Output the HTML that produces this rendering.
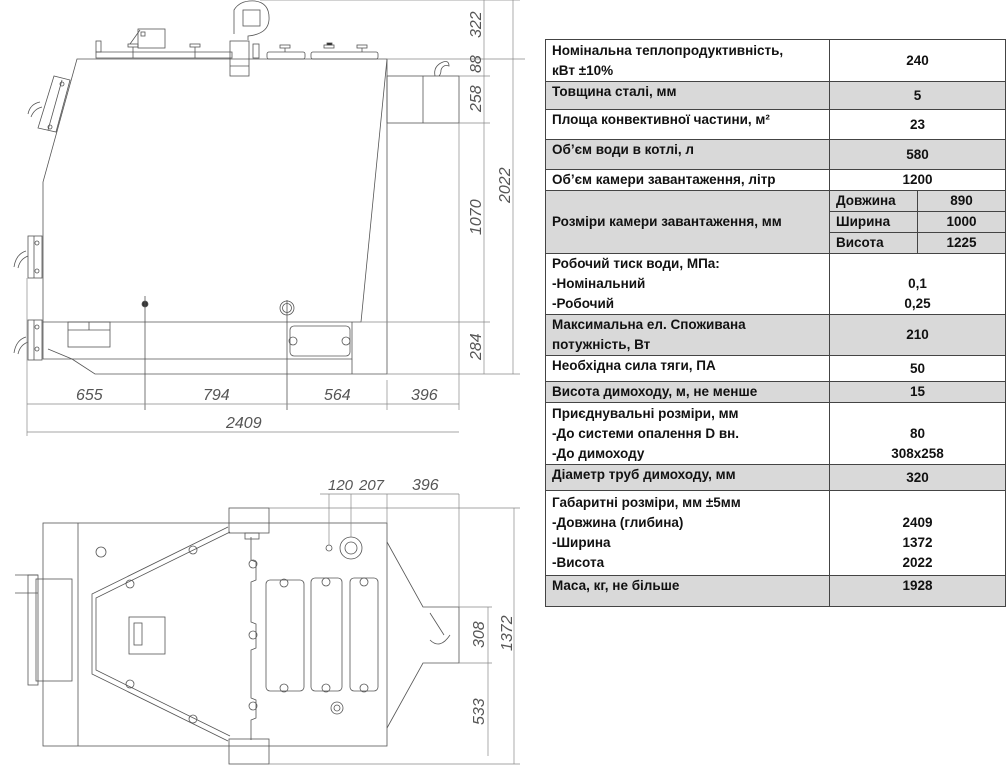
<!DOCTYPE html>
<html><head><meta charset="utf-8"><style>
html,body{margin:0;padding:0;background:#fff;width:1006px;height:766px;overflow:hidden;position:relative}
svg{position:absolute;left:0;top:0}
table{position:absolute;left:545px;top:39px;width:460px;border-collapse:collapse;font-family:"Liberation Sans","DejaVu Sans",sans-serif;font-weight:bold;font-size:13.5px;color:#111;table-layout:fixed}
td{border:1.5px solid #444;padding:0 6px;line-height:20px;vertical-align:middle;white-space:nowrap}
td.v{text-align:center}
tr.g td{background:#d9d9d9}
.dim{font-family:"Liberation Sans",sans-serif;font-style:italic;font-size:16px;fill:#555}
</style></head><body>
<svg width="540" height="766" viewBox="0 0 540 766" fill="none" stroke="#555" stroke-width="0.8">
<path d="M77 59 L387 59 L361 322 L43 322 L43 182 Z"/>
<path d="M43 322 L43 359 L352 359 L352 322"/>
<path d="M48 349 L72 359 L95 374 L387 374 L387 59"/>
<line x1="352" y1="359" x2="352" y2="374"/>
<rect x="68" y="322" width="42" height="25"/><line x1="89" y1="322" x2="89" y2="330"/><line x1="68" y1="330" x2="110" y2="330"/>
<rect x="290" y="326" width="60" height="30" rx="4"/><circle cx="293" cy="341" r="4"/><circle cx="346" cy="341" r="4"/>
<circle cx="287" cy="308" r="7"/><circle cx="287" cy="308" r="4.5"/>
<circle cx="145" cy="304" r="3" fill="#333"/><line x1="145" y1="296" x2="145" y2="410"/>
<line x1="287" y1="300" x2="287" y2="410"/>
<rect x="387" y="76" width="72" height="47"/><line x1="423" y1="76" x2="423" y2="123"/>
<path d="M435 76 q-2 -10 8 -14 q6 -2 6 4 q-6 -2 -8 4 q0 4 -2 6"/>
<path d="M96 52 L232 52 L232 58 L96 58 Z"/><rect x="96" y="41" width="5" height="11"/>
<rect x="138" y="29" width="27" height="19"/><rect x="141" y="32" width="4" height="4"/><line x1="130" y1="44" x2="140" y2="30"/>
<rect x="128" y="44" width="10" height="3"/><line x1="133" y1="47" x2="133" y2="58"/>
<rect x="190" y="44" width="10" height="3"/><line x1="195" y1="47" x2="195" y2="58"/>
<path d="M234 34 L234 10 Q240 0 255 1 Q270 3 269 20 Q268 34 248 36 L248 40"/>
<rect x="243" y="10" width="17" height="16"/>
<rect x="230" y="41" width="19" height="35"/><line x1="230" y1="66" x2="249" y2="66"/>
<rect x="253" y="44" width="6" height="14"/>
<rect x="267" y="52" width="38" height="7" rx="2"/><rect x="280" y="45" width="10" height="3"/><line x1="285" y1="48" x2="285" y2="52"/>
<rect x="311" y="52" width="67" height="7" rx="2"/><rect x="324" y="45" width="10" height="3"/><rect x="327" y="43" width="5" height="2" fill="#222"/>
<rect x="357" y="45" width="10" height="3"/><line x1="362" y1="48" x2="362" y2="52"/>
<path d="M54 76 L38 128 L56 132 L70 80 Z"/><line x1="62" y1="80" x2="48" y2="130"/><circle cx="62" cy="84" r="2"/><circle cx="50" cy="127" r="2"/>
<path d="M40 102 q-10 2 -12 12"/><path d="M42 107 q-8 2 -11 10"/>
<rect x="28" y="236" width="14" height="42"/><line x1="34" y1="236" x2="34" y2="278"/><circle cx="37" cy="243" r="2"/><circle cx="37" cy="271" r="2"/>
<path d="M26 251 q-10 3 -12 16"/><path d="M28 256 q-8 3 -10 12"/>
<rect x="28" y="320" width="14" height="40"/><line x1="34" y1="320" x2="34" y2="360"/><circle cx="37" cy="327" r="2"/><circle cx="37" cy="349" r="2"/>
<path d="M26 337 q-10 3 -12 16"/><path d="M28 342 q-8 3 -10 12"/>
<g stroke="#888" stroke-width="0.7">
<line x1="27" y1="278" x2="27" y2="436"/>
<line x1="387" y1="59" x2="525" y2="59"/><line x1="459" y1="76" x2="490" y2="76"/><line x1="459" y1="123" x2="490" y2="123"/><line x1="361" y1="322" x2="490" y2="322"/><line x1="387" y1="374" x2="520" y2="374"/><line x1="260" y1="0" x2="520" y2="0"/>
<line x1="484" y1="0" x2="484" y2="374"/><line x1="513" y1="0" x2="513" y2="374"/>
<line x1="387" y1="380" x2="387" y2="410"/><line x1="459" y1="123" x2="459" y2="410"/>
<line x1="27" y1="404" x2="459" y2="404"/><line x1="27" y1="432" x2="459" y2="432"/>
</g>
<text class="dim" x="76" y="400" stroke="none">655</text>
<text class="dim" x="203" y="400" stroke="none">794</text>
<text class="dim" x="324" y="400" stroke="none">564</text>
<text class="dim" x="411" y="400" stroke="none">396</text>
<text class="dim" x="226" y="428" stroke="none">2409</text>
<g stroke="none" class="dim">
<text transform="translate(481 38) rotate(-90)" class="dim">322</text>
<text transform="translate(481 73) rotate(-90)" class="dim">88</text>
<text transform="translate(481 112) rotate(-90)" class="dim">258</text>
<text transform="translate(481 235) rotate(-90)" class="dim">1070</text>
<text transform="translate(481 360) rotate(-90)" class="dim">284</text>
<text transform="translate(510 203) rotate(-90)" class="dim">2022</text>
</g>
<rect x="43" y="523" width="344" height="223"/><line x1="78" y1="523" x2="78" y2="746"/>
<path d="M387 542 L423 607 L459 607 L459 663 L423 663 L387 728"/>
<path d="M230 532 L96 598 L96 670 L230 736"/>
<path d="M228 527 L92 594 L92 674 L228 741"/>
<path d="M251 537 L251 560 L256 562 L256 580 L251 582 L251 622 L256 624 L256 648 L251 650 L251 698 L256 700 L256 718 L251 720 L251 740"/>
<rect x="229" y="508" width="40" height="25"/><rect x="245" y="533" width="14" height="6"/>
<rect x="229" y="739" width="40" height="25"/>
<rect x="266" y="580" width="38" height="111" rx="4"/><rect x="311" y="578" width="31" height="113" rx="4"/><rect x="350" y="578" width="28" height="113" rx="4"/>
<g>
<circle cx="284" cy="583" r="4"/><circle cx="284" cy="688" r="4"/><circle cx="326" cy="582" r="4"/><circle cx="326" cy="688" r="4"/><circle cx="364" cy="582" r="4"/><circle cx="364" cy="688" r="4"/>
<circle cx="253" cy="564" r="4"/><circle cx="253" cy="635" r="4"/><circle cx="253" cy="706" r="4"/>
<circle cx="193" cy="550" r="4"/><circle cx="130" cy="584" r="4"/><circle cx="130" cy="684" r="4"/><circle cx="193" cy="719" r="4"/>
<circle cx="329" cy="548" r="3"/><circle cx="351" cy="548" r="11"/><circle cx="351" cy="548" r="6"/><circle cx="337" cy="708" r="6"/><circle cx="337" cy="708" r="3"/>
<circle cx="101" cy="552" r="5"/>
</g>
<rect x="129" y="617" width="36" height="37"/><rect x="134" y="623" width="8" height="22"/>
<rect x="36" y="579" width="36" height="102"/><rect x="28" y="575" width="10" height="110"/><line x1="15" y1="575" x2="38" y2="575"/><line x1="15" y1="593" x2="38" y2="593"/>
<path d="M430 613 L444 635 M430 640 q10 10 20 -5"/>
<g stroke="#888" stroke-width="0.7">
<line x1="320" y1="494" x2="459" y2="494"/><line x1="329" y1="494" x2="329" y2="545"/><line x1="351" y1="494" x2="351" y2="537"/><line x1="387" y1="494" x2="387" y2="523"/><line x1="459" y1="494" x2="459" y2="607"/>
<line x1="269" y1="508" x2="520" y2="508"/><line x1="459" y1="607" x2="492" y2="607"/><line x1="459" y1="663" x2="492" y2="663"/><line x1="269" y1="764" x2="520" y2="764"/>
<line x1="488" y1="607" x2="488" y2="756"/><line x1="514" y1="508" x2="514" y2="764"/>
</g>
<g stroke="none">
<text class="dim" x="328" y="490" style="font-size:15px">120</text><text class="dim" x="359" y="490" style="font-size:15px">207</text><text class="dim" x="412" y="490">396</text>
<text transform="translate(484 648) rotate(-90)" class="dim">308</text>
<text transform="translate(484 725) rotate(-90)" class="dim">533</text>
<text transform="translate(512 651) rotate(-90)" class="dim">1372</text>
</g>
</svg>
<table>
<colgroup><col style="width:284px"><col style="width:88px"><col style="width:88px"></colgroup>
<tr style="height:42px"><td>Номінальна теплопродуктивність,<br>кВт ±10%</td><td class="v" colspan="2">240</td></tr>
<tr class="g" style="height:28px"><td style="vertical-align:top">Товщина сталі, мм</td><td class="v" colspan="2">5</td></tr>
<tr style="height:30px"><td style="vertical-align:top">Площа конвективної частини, м²</td><td class="v" colspan="2">23</td></tr>
<tr class="g" style="height:30px"><td style="vertical-align:top">Об’єм води в котлі, л</td><td class="v" colspan="2">580</td></tr>
<tr style="height:20px"><td>Об’єм камери завантаження, літр</td><td class="v" colspan="2">1200</td></tr>
<tr class="g" style="height:21px"><td rowspan="3">Розміри камери завантаження, мм</td><td style="text-align:left">Довжина</td><td class="v">890</td></tr>
<tr class="g" style="height:21px"><td>Ширина</td><td class="v">1000</td></tr>
<tr class="g" style="height:21px"><td>Висота</td><td class="v">1225</td></tr>
<tr style="height:61px"><td>Робочий тиск води, МПа:<br>-Номінальний<br>-Робочий</td><td class="v" colspan="2"><br>0,1<br>0,25</td></tr>
<tr class="g" style="height:40px"><td>Максимальна ел. Споживана<br>потужність, Вт</td><td class="v" colspan="2">210</td></tr>
<tr style="height:26px"><td style="vertical-align:top">Необхідна сила тяги, ПА</td><td class="v" colspan="2">50</td></tr>
<tr class="g" style="height:20px"><td>Висота димоходу, м, не менше</td><td class="v" colspan="2">15</td></tr>
<tr style="height:62px"><td>Приєднувальні розміри, мм<br>-До системи опалення D вн.<br>-До димоходу</td><td class="v" colspan="2"><br>80<br>308x258</td></tr>
<tr class="g" style="height:26px"><td style="vertical-align:top">Діаметр труб димоходу, мм</td><td class="v" colspan="2">320</td></tr>
<tr style="height:85px"><td>Габаритні розміри, мм ±5мм<br>-Довжина (глибина)<br>-Ширина<br>-Висота</td><td class="v" colspan="2"><br>2409<br>1372<br>2022</td></tr>
<tr class="g" style="height:31px"><td style="vertical-align:top">Маса, кг, не більше</td><td class="v" colspan="2" style="vertical-align:top">1928</td></tr>
</table>
</body></html>
